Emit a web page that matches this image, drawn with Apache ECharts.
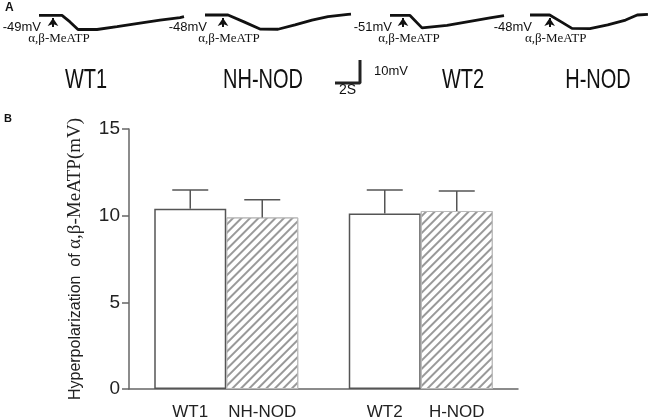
<!DOCTYPE html>
<html>
<head>
<meta charset="utf-8">
<script src="https://cdn.jsdelivr.net/npm/echarts@6/dist/echarts.min.js"></script>
<style>
html,body{margin:0;padding:0;background:#fff;}
#chart{width:664px;height:419px;}
</style>
</head>
<body>
<div id="chart"></div>
<script>
// ---- panel B: hyperpolarization (mV), mean and upper SEM ----
var groups = ['WT1', 'NH-NOD', 'WT2', 'H-NOD'];
var pairs = ['WT1 / NH-NOD', 'WT2 / H-NOD'];
var wtValues = [10.4, 10.13];
var wtErrors = [1.08, 1.35];
var nodValues = [9.9, 10.27];
var nodErrors = [1.02, 1.15];

// ---- panel A: traces, [seconds, mV from resting potential] ----
var restLabels = ['-49mV', '-48mV', '-51mV', '-48mV'];
var trace1 = [[0, -0.2], [1.84, -0.2], [2.48, -3.0], [3.12, -6.3], [4.64, -6.3], [6.24, -5.1], [8.08, -3.5], [9.68, -2.2], [11.28, -1.1], [11.6, -0.7]];
var trace2 = [[0, 0], [1.84, 0], [3.12, -3.0], [4.4, -6.1], [5.84, -6.2], [7.2, -4.3], [8.56, -2.2], [9.84, -0.7], [11.44, 0.3], [11.68, 0.4]];
var trace3 = [[0, -0.2], [1.6, -0.2], [2.56, -5.6], [4.56, -4.5], [6.4, -2.8], [8.0, -1.3], [9.12, -0.3]];
var trace4 = [[0, 0], [1.76, 0], [2.8, -3.0], [3.76, -5.8], [5.36, -5.9], [6.96, -4.3], [8.56, -2.2], [9.6, 0], [10.56, 0.3]];
var drugTimes = [1.12, 1.44, 1.04, 1.76];   // arrow: α,β-MeATP applied
var scaleBar = [[0, 0], [2, 0], [2, 10]];     // 2 s, 10 mV

var traces = [trace1, trace2, trace3, trace4];
var traceLeft = [39, 205, 390, 530];
var groupLabelX = [86, 263, 463, 598];
var BAR_W = 72;
var SANS = 'Liberation Sans, Arial, sans-serif';
var SERIF = 'Liberation Serif, Times New Roman, serif';

var chart = echarts.init(document.getElementById('chart'));

var grids = [{left: 129, right: 146, top: 129, bottom: 30}];
var xAxes = [{
    gridIndex: 0, type: 'category', data: pairs,
    axisLine: {lineStyle: {color: '#666', width: 1.5}},
    axisTick: {show: false}, axisLabel: {show: false}
}];
var yAxes = [{
    gridIndex: 0, type: 'value', min: 0, max: 15, interval: 5,
    name: '{a|Hyperpolarization  of }{b|α,β-MeATP(mV)}',
    nameLocation: 'middle', nameRotate: 90, nameGap: 44,
    nameTextStyle: {rich: {
        a: {fontFamily: SANS, fontSize: 16, color: '#222'},
        b: {fontFamily: SERIF, fontSize: 19, color: '#222'}
    }},
    axisLine: {show: true, lineStyle: {color: '#666', width: 1.5}},
    axisTick: {show: true, length: 7, lineStyle: {color: '#666', width: 1.5}},
    axisLabel: {fontSize: 19, color: '#222', margin: 9, fontFamily: SANS},
    splitLine: {show: false}
}];

function errorSeries(values, errors, side) {
    return {
        type: 'custom', xAxisIndex: 0, yAxisIndex: 0, z: 3,
        data: values.map(function (v, i) { return [i, v, errors[i]]; }),
        encode: {x: 0, y: 1},
        renderItem: function (params, api) {
            var base = api.coord([api.value(0), api.value(1)]);
            var top = api.coord([api.value(0), api.value(1) + api.value(2)]);
            var cx = base[0] + side * BAR_W / 2;
            var st = {stroke: '#555', lineWidth: 1.5};
            return {type: 'group', children: [
                {type: 'line', shape: {x1: cx, y1: base[1], x2: cx, y2: top[1]}, style: st},
                {type: 'line', shape: {x1: cx - 18, y1: top[1], x2: cx + 18, y2: top[1]}, style: st}
            ]};
        }
    };
}

var series = [
    {
        type: 'bar', xAxisIndex: 0, yAxisIndex: 0, data: wtValues,
        barWidth: BAR_W, barGap: '0%',
        itemStyle: {color: '#fff', borderColor: '#555', borderWidth: 1.5},
        label: {show: true, position: ['50%', '100%'], offset: [0, 15], align: 'center', verticalAlign: 'top',
            fontSize: 17, color: '#222', fontFamily: SANS,
            formatter: function (p) { return groups[p.dataIndex * 2]; }}
    },
    {
        type: 'bar', xAxisIndex: 0, yAxisIndex: 0, data: nodValues,
        barWidth: BAR_W, barGap: '0%',
        itemStyle: {color: '#fff', borderColor: '#bbb', borderWidth: 1,
            decal: {symbol: 'rect', symbolSize: 1, color: '#999', dashArrayX: [1, 0], dashArrayY: [2, 3.4], rotation: -Math.PI / 4}},
        label: {show: true, position: ['50%', '100%'], offset: [0, 15], align: 'center', verticalAlign: 'top',
            fontSize: 17, color: '#222', fontFamily: SANS,
            formatter: function (p) { return groups[p.dataIndex * 2 + 1]; }}
    },
    errorSeries(wtValues, wtErrors, -1),
    errorSeries(nodValues, nodErrors, 1)
];

traces.forEach(function (tr, i) {
    var g = i + 1;
    grids.push({left: traceLeft[i], top: 15, width: 150, height: 23});
    xAxes.push({gridIndex: g, type: 'value', min: 0, max: 12, show: false});
    yAxes.push({gridIndex: g, type: 'value', min: -10, max: 0, show: false});
    series.push({
        type: 'line', xAxisIndex: g, yAxisIndex: g, data: tr,
        symbol: 'none', clip: false,
        lineStyle: {color: '#111', width: 2.8},
        markLine: {
            silent: true, symbol: ['none', 'arrow'], symbolSize: 8,
            lineStyle: {color: '#111', width: 2, type: 'solid'},
            label: {show: false},
            data: [[{coord: [drugTimes[i], -5.2]}, {coord: [drugTimes[i], -1.3]}]]
        },
        markPoint: {
            silent: true, symbol: 'circle', symbolSize: 0,
            data: [
                {coord: [0, 0], label: {show: true, formatter: restLabels[i], position: 'left', distance: 0, offset: [2, 12],
                    fontSize: 13, color: '#111', fontFamily: SANS}},
                {coord: [drugTimes[i], -5.2], label: {show: true, formatter: 'α,β-MeATP', position: 'bottom', distance: 5, offset: [6, 0],
                    fontSize: 13, color: '#111', fontFamily: SERIF}}
            ]
        }
    });
});

// scale bar
grids.push({left: 335, top: 60, width: 25, height: 23});
xAxes.push({gridIndex: 5, type: 'value', min: 0, max: 2, show: false});
yAxes.push({gridIndex: 5, type: 'value', min: 0, max: 10, show: false});
series.push({
    type: 'line', xAxisIndex: 5, yAxisIndex: 5, data: scaleBar,
    symbol: 'none', clip: false,
    lineStyle: {color: '#222', width: 3},
    markPoint: {
        silent: true, symbol: 'circle', symbolSize: 0,
        data: [
            {coord: [2, 5], label: {show: true, formatter: '10mV', position: 'right', distance: 14, fontSize: 13, color: '#111', fontFamily: SANS}},
            {coord: [1, 0], label: {show: true, formatter: '2S', position: 'bottom', distance: 0, fontSize: 14, color: '#111', fontFamily: SANS}}
        ]
    }
});

var graphics = [
    {type: 'text', x: 5, y: 2, style: {text: 'A', font: 'bold 12px ' + SANS, fill: '#111'}},
    {type: 'text', x: 4, y: 113, style: {text: 'B', font: 'bold 11px ' + SANS, fill: '#111'}}
];
groups.forEach(function (name, i) {
    graphics.push({type: 'text', x: groupLabelX[i], y: 80, scaleY: 1.4,
        style: {text: name, font: '20px ' + SANS, fill: '#111', textAlign: 'center', textVerticalAlign: 'middle'}});
});

chart.setOption({
    animation: false,
    textStyle: {fontFamily: SANS},
    grid: grids,
    xAxis: xAxes,
    yAxis: yAxes,
    series: series,
    graphic: graphics
});
</script>
</body>
</html>
